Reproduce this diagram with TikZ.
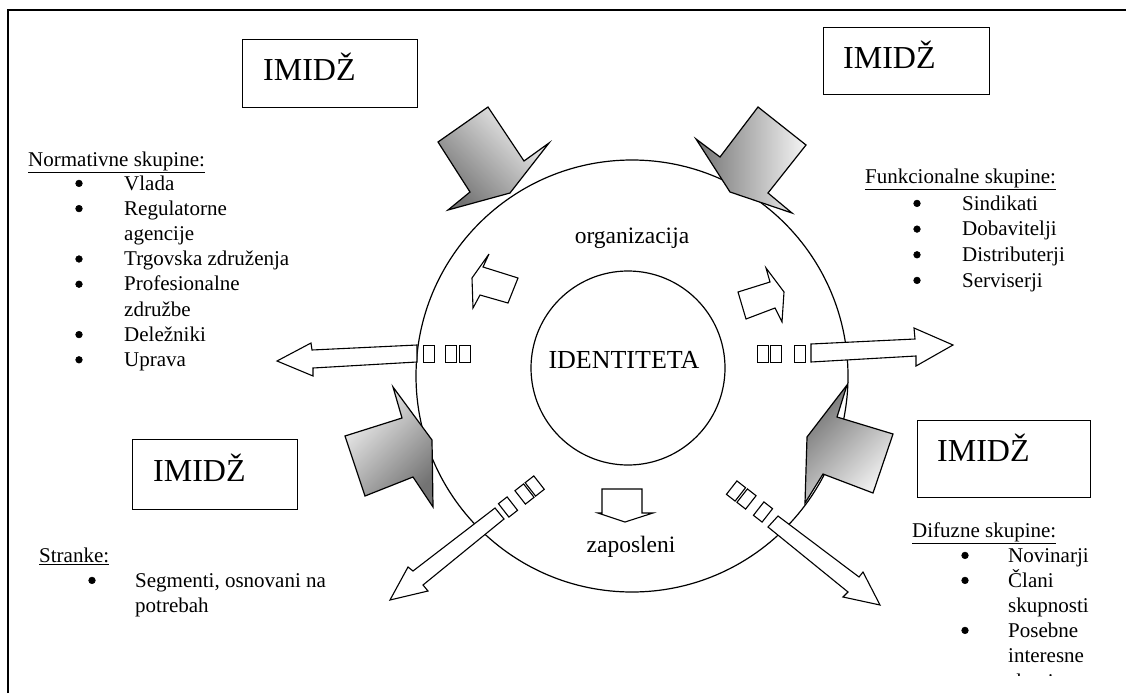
\documentclass[tikz,border=0pt]{standalone}
\usepackage{fontspec}
\setmainfont{Liberation Serif}
\begin{document}
\begin{tikzpicture}[x=1pt,y=-1pt,line join=miter,
  frame/.style={line width=1.8pt},
  imbox/.style={draw,line width=1.4pt,anchor=north west,inner sep=0},
  imtxt/.style={font=\fontsize{32}{38}\selectfont,anchor=base west,inner sep=0},
  lst/.style={font=\fontsize{21}{25}\selectfont,anchor=base west,inner sep=0},
  bul/.style={circle,fill=black,draw=black,line width=0.6pt,minimum size=6.6pt,inner sep=0,yshift=6.6pt},
  ctr/.style={font=\fontsize{23.5}{28}\selectfont,anchor=base,inner sep=0},
  bigarrow/.style={draw,line width=1.2pt,top color=black!4,bottom color=black!55},
  wharrow/.style={draw,line width=1.1pt,fill=white},
  tofu/.style={draw,line width=1.1pt,minimum width=11pt,minimum height=17pt,inner sep=0},
  ring/.style={draw,line width=1.2pt}]
\useasboundingbox (0,0) rectangle (1126,693);
% frame
\draw[frame] (8,693) -- (8,10) -- (1126,10);
% circles
\node[ring,circle,minimum size=432pt,inner sep=0] (outer) at (632,376) {};
\node[ring,circle,minimum size=194pt,inner sep=0] (inner) at (628,368) {};
% white arrows
\path[wharrow] (417,345)--(312,350)--(311,343)--(277,361)--(313,376)--(313,368)--(417,362)--cycle;
\path[wharrow] (811,344)--(915,339)--(914,328)--(953,345)--(916,366)--(916,356)--(811,362)--cycle;
\path[wharrow] (495,508)--(413,571)--(408,567)--(390,600)--(428,591)--(423,585)--(504,519)--cycle;
\path[wharrow] (778,516)--(859,577)--(863,572)--(880,605)--(843,597)--(848,592)--(768,527)--cycle;
\path[wharrow] (489,254)--(472,278)--(473,308)--(480,295)--(508,303)--(518,278)--(483,267)--cycle;
\path[wharrow] (738,292)--(746,319)--(775,308)--(782,322)--(784,292)--(766,268)--(770,282)--cycle;
\path[wharrow] (602,489)--(602,513)--(598,513)--(625,522)--(653,513)--(642,513)--(642,489)--cycle;
% tofu boxes
\node[tofu] (tl1) at (429,354) {};
\node[tofu] (tl2) at (451,354) {};
\node[tofu] (tl3) at (465,354) {};
\node[tofu] (tr1) at (763,354) {};
\node[tofu] (tr2) at (776,354) {};
\node[tofu] (tr3) at (800,354) {};
\node[tofu,rotate=38] (td1) at (508,507) {};
\node[tofu,rotate=38] (td2) at (524.5,494) {};
\node[tofu,rotate=38] (td3) at (534.7,486) {};
\node[tofu,rotate=-38] (te1) at (763,512) {};
\node[tofu,rotate=-38] (te2) at (746.5,499) {};
\node[tofu,rotate=-38] (te3) at (736,491) {};
% big gradient arrows
\path[bigarrow,shading angle=-45] (438,142)--(488,107)--(524,161)--(549,143)--(510,193)--(448,210)--(470,192)--cycle;
\path[bigarrow,shading angle=-90] (758,107)--(806,145)--(768,193)--(792,213)--(730,192)--(696,139)--(720,157)--cycle;
\path[bigarrow,shading angle=45] (345,436)--(365,496)--(413,477)--(433,507)--(432,440)--(393,387)--(402,418)--cycle;
\path[bigarrow,shading angle=-135] (893,434)--(873,493)--(823,474)--(805,503)--(807,437)--(847,385)--(837,417)--cycle;
% IMIDZ boxes
\node[imbox,minimum width=175pt,minimum height=68pt] (im1) at (242,39) {};
\node[imtxt] (im1t) at (263,80) {IMIDŽ};
\node[imbox,minimum width=166pt,minimum height=67pt] (im2) at (823,27) {};
\node[imtxt] (im2t) at (843,68) {IMIDŽ};
\node[imbox,minimum width=165pt,minimum height=70pt] (im3) at (132,439) {};
\node[imtxt] (im3t) at (153,481) {IMIDŽ};
\node[imbox,minimum width=173pt,minimum height=77pt] (im4) at (917,420) {};
\node[imtxt] (im4t) at (937,461) {IMIDŽ};
% centre labels
\node[ctr] (org) at (632,243) {organizacija};
\node[ctr,font=\fontsize{26}{30}\selectfont] (ident) at (624,368) {IDENTITETA};
\node[ctr] (zap) at (631,552) {zaposleni};
% Normativne skupine
\node[lst] (nt) at (28,166) {\underline{Normativne skupine:}};
\foreach \t/\y/\b [count=\i] in {Vlada/190/1,Regulatorne/215.2/1,agencije/240.4/0,Trgovska združenja/265.6/1,Profesionalne/290.8/1,združbe/316/0,Deležniki/341.2/1,Uprava/366.4/1}{
  \node[lst] (n\i) at (124,\y) {\t};
  \ifnum\b=1 \node[bul] (nb\i) at (79,\y) {};\fi
}
% Funkcionalne skupine
\node[lst] (ft) at (865,183) {\underline{Funkcionalne skupine:}};
\foreach \t/\y [count=\i] in {Sindikati/210,Dobavitelji/235.7,Distributerji/261.4,Serviserji/287}{
  \node[lst] (f\i) at (962,\y) {\t};
  \node[bul] (fb\i) at (917,\y) {};
}
% Stranke
\node[lst] (st) at (39,562) {\underline{Stranke:}};
\node[bul] (sb1) at (92,587) {};
\node[lst] (s1) at (135,587) {Segmenti, osnovani na};
\node[lst] (s2) at (135,612) {potrebah};
% Difuzne skupine
\node[lst] (dt) at (912,537) {\underline{Difuzne skupine:}};
\foreach \t/\y/\b [count=\i] in {Novinarji/562/1,Člani/587/1,skupnosti/612/0,Posebne/637/1,interesne/662/0}{
  \node[lst] (d\i) at (1008,\y) {\t};
  \ifnum\b=1 \node[bul] (db\i) at (965,\y) {};\fi
}
\begin{scope}
\clip (900,600) rectangle (1126,675);
\node[lst] (d6) at (1008,688) {skupine};
\end{scope}
\end{tikzpicture}
\end{document}
